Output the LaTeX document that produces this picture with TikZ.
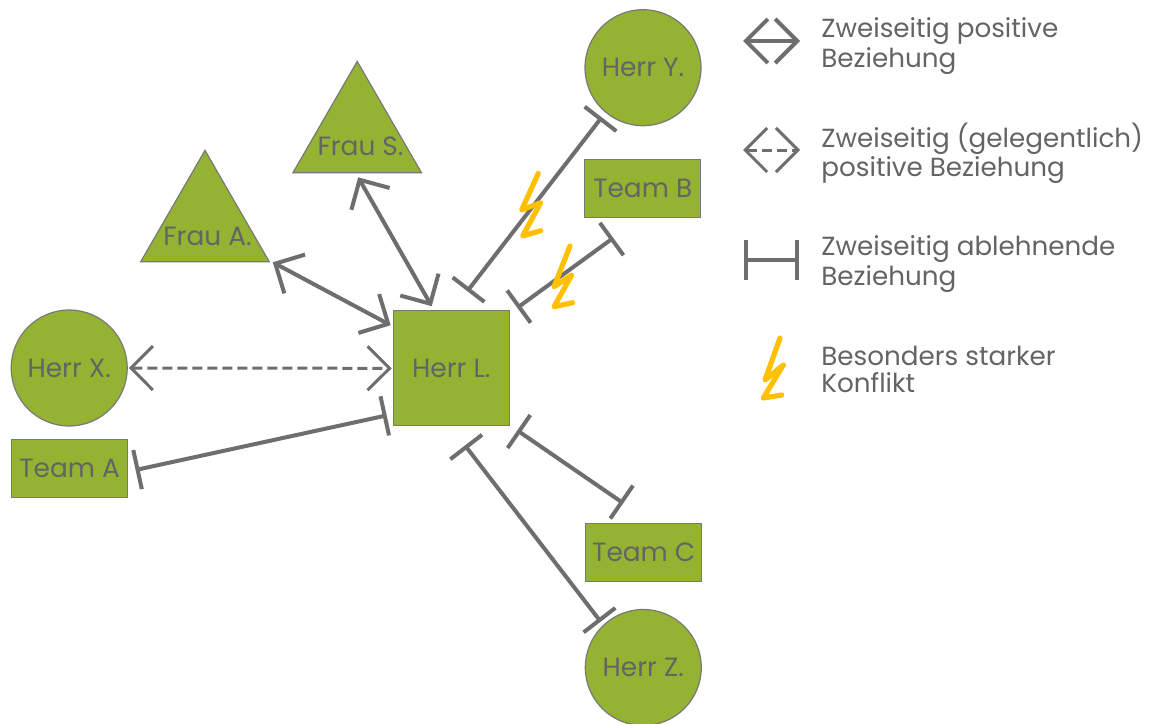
\documentclass[tikz,border=0pt]{standalone}
\usepackage{fontspec}
\setmainfont{Poppins}
\usetikzlibrary{arrows.meta,shapes.geometric}
\definecolor{leaf}{RGB}{149,179,50}
\definecolor{rim}{RGB}{120,120,120}
\definecolor{wire}{RGB}{110,110,110}
\definecolor{ink}{RGB}{100,100,100}
\definecolor{flash}{RGB}{255,192,0}
\begin{document}
\begin{tikzpicture}[x=0.5pt,y=-0.5pt,
  shapebase/.style={draw=rim, line width=0.6pt, fill=leaf, text=ink,
    font=\fontsize{13.2}{16}\selectfont, inner sep=0pt},
  person/.style={shapebase, circle, minimum size=58pt},
  team/.style={shapebase, rectangle, minimum width=58pt, minimum height=29pt},
  lead/.style={shapebase, rectangle, minimum width=58pt, minimum height=57.5pt},
  tri/.style={shapebase, regular polygon, regular polygon sides=3, minimum size=74.2pt},
  trilabel/.style={text=ink, font=\fontsize{13.2}{16}\selectfont, inner sep=0pt},
  rel/.style={draw=wire, line width=2pt},
  good/.style={rel, {Straight Barb[length=11pt,width=22pt]}-{Straight Barb[length=11pt,width=22pt]}},
  maybe/.style={good, line width=1.5pt, dash pattern=on 5pt off 2.5pt},
  bad/.style={rel, {Bar[width=20pt]}-{Bar[width=20pt]}},
  bolt/.style={draw=flash, line width=2.6pt, line cap=round, line join=round},
  legend/.style={text=ink, font=\fontsize{13.1}{13.5}\selectfont, align=left,
    anchor=base west, inner sep=0pt}
]
\fill[white] (0,0) rectangle (1151,723);
\useasboundingbox (0,0) rectangle (1151,723);

% people, teams and the central person
\node[lead] (hl) at (451.3,368.3) {Herr L.};
\node[person] (hx) at (69.2,368) {Herr X.};
\node[team] (ta) at (69.7,468.5) {Team A};
\node[tri] (fa) at (205,224.6) {};
\node[trilabel] (fal) at (207.5,236.7) {Frau A.};
\node[tri] (fs) at (357.2,135.6) {};
\node[trilabel] (fsl) at (360.5,146) {Frau S.};
\node[person] (hy) at (643,67.7) {Herr Y.};
\node[team] (tb) at (642.8,188.3) {Team B};
\node[team] (tc) at (643.8,552.2) {Team C};
\node[person] (hz) at (643.3,667.5) {Herr Z.};

% relations
\draw[good] ([shift={(2.5,0)}]fa.corner 3) -- ([shift={(-2,15)}]hl.north west);
\draw[good] ([shift={(1,4)}]fs.south) -- ([shift={(-19.6,-4)}]hl.north);
\draw[maybe] ([shift={(1,0)}]hx.east) -- ([shift={(-1,0)}]hl.west);
\draw[bad] ([shift={(7.3,1.5)}]ta.east) -- ([shift={(-6,-11)}]hl.south west);
\draw[bad] ([shift={(16,-19)}]hl.north) -- ([shift={(-41.3,49.6)}]hy.center);
\draw[bad] ([shift={(7.4,-2.4)}]hl.north east) -- ([shift={(-29.5,20)}]tb.south);
\draw[bad] ([shift={(7.4,4)}]hl.south east) -- ([shift={(-20.5,-19.4)}]tc.north);
\draw[bad] ([shift={(13.7,19)}]hl.south) -- ([shift={(-42.6,-45.8)}]hz.center);

% strong conflicts
\draw[bolt] (538.3,173.3) -- (521.7,210) -- (540.7,202.7) -- (522.7,236) -- (540.7,230.7);
\draw[bolt] (570,246) -- (554,286.7) -- (571.7,275) -- (554,306.7) -- (572.7,302.7);

% legend
\coordinate (k1a) at (743,41);  \coordinate (k1b) at (800,41);
\coordinate (k2a) at (743,150); \coordinate (k2b) at (800,150);
\coordinate (k3a) at (744,260); \coordinate (k3b) at (799,260);
\draw[good] (k1a) -- (k1b);
\draw[maybe] (k2a) -- (k2b);
\draw[bad] (k3a) -- (k3b);
\draw[bolt] (780,338) -- (765,380) -- (783.3,365) -- (763.3,398) -- (781.7,395);
\node[legend] (t1) at (821,67) {Zweiseitig positive\\Beziehung};
\node[legend] (t2) at (821,176.7) {Zweiseitig (gelegentlich)\\positive Beziehung};
\node[legend] (t3) at (821,285) {Zweiseitig ablehnende\\Beziehung};
\node[legend] (t4) at (821,392.7) {Besonders starker\\Konflikt};
\end{tikzpicture}
\end{document}
